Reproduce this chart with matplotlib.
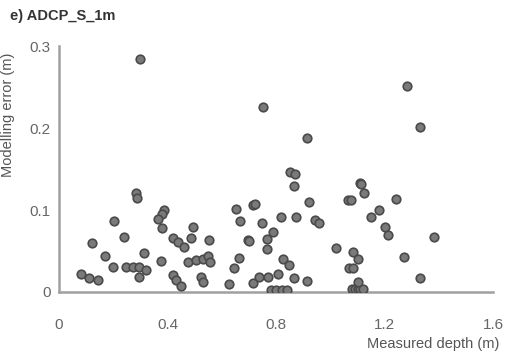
import matplotlib.pyplot as plt

plt.rcParams["font.family"] = ["Liberation Sans", "DejaVu Sans"]

# Data (measured depth vs modelling error)
depth = [0.298, 0.752, 1.283, 1.331, 0.914, 0.85, 0.87, 1.11,
         0.284, 0.289, 0.387, 0.380, 0.365, 0.380, 0.203, 0.240, 0.122,
         0.170, 0.313, 0.199, 0.247, 0.273, 0.295, 0.321, 0.295, 0.376,
         0.081, 0.111, 0.144, 0.420, 0.439, 0.461, 0.494, 0.487,
         0.476, 0.505, 0.531, 0.420, 0.431, 0.450, 0.523, 0.531,
         0.553, 0.652, 0.667, 0.697, 0.664, 0.645, 0.627, 0.715, 0.549, 0.557,
         0.866, 0.723, 0.748, 0.818, 0.874, 0.921, 0.944, 0.958, 1.065,
         0.700, 0.789, 0.767, 0.767, 1.020, 0.826, 0.848,
         0.715, 0.737, 0.770, 0.807, 0.866, 0.914, 1.069,
         0.78, 0.80, 0.82, 0.84,
         1.113, 1.124, 1.076, 1.242, 1.180, 1.150, 1.200, 1.213, 1.382,
         1.084, 1.102, 1.084, 1.272, 1.331,
         1.08, 1.09, 1.10, 1.11, 1.12, 1.10]
error = [0.285, 0.226, 0.251, 0.201, 0.188, 0.146, 0.144, 0.133,
         0.121, 0.115, 0.100, 0.095, 0.089, 0.078, 0.087, 0.067, 0.060,
         0.044, 0.048, 0.031, 0.031, 0.031, 0.031, 0.027, 0.018, 0.038,
         0.022, 0.017, 0.015, 0.066, 0.061, 0.055, 0.079, 0.066,
         0.037, 0.039, 0.040, 0.021, 0.015, 0.007, 0.018, 0.012,
         0.063, 0.101, 0.087, 0.063, 0.041, 0.029, 0.010, 0.106, 0.044, 0.037,
         0.129, 0.107, 0.084, 0.091, 0.091, 0.110, 0.088, 0.084, 0.112,
         0.062, 0.073, 0.065, 0.052, 0.054, 0.040, 0.033,
         0.011, 0.018, 0.018, 0.022, 0.017, 0.013, 0.029,
         0.002, 0.002, 0.002, 0.002,
         0.132, 0.121, 0.112, 0.113, 0.100, 0.091, 0.079, 0.070, 0.067,
         0.049, 0.040, 0.029, 0.043, 0.017,
         0.003, 0.003, 0.003, 0.003, 0.003, 0.012]

x_ticks = [0, 0.4, 0.8, 1.2, 1.6]
x_tick_labels = ["0", "0.4", "0.8", "1.2", "1.6"]
y_ticks = [0, 0.1, 0.2, 0.3]
y_tick_labels = ["0", "0.1", "0.2", "0.3"]

fig = plt.figure(figsize=(5.08, 3.56), dpi=100)
ax = fig.add_axes([0.116, 0.180, 0.855, 0.690])

ax.scatter(depth, error, s=38, facecolor="#7a7a7a", edgecolor="#4a4a4a",
           linewidth=1.2, zorder=3)

ax.set_xlim(0, 1.6)
ax.set_ylim(0, 0.3)
ax.set_xticks(x_ticks)
ax.set_xticklabels(x_tick_labels)
ax.set_yticks(y_ticks)
ax.set_yticklabels(y_tick_labels)
ax.tick_params(axis="both", length=0, labelsize=11, colors="#666666")
ax.tick_params(axis="x", pad=19)
ax.tick_params(axis="y", pad=6)

for side in ["top", "right"]:
    ax.spines[side].set_visible(False)
for side in ["left", "bottom"]:
    ax.spines[side].set_color("#a0a0a0")
    ax.spines[side].set_linewidth(1.8)

ax.set_xlabel("Measured depth (m)", fontsize=10.5, color="#555555")
ax.xaxis.set_label_coords(1.015, -0.185)
ax.xaxis.label.set_horizontalalignment("right")

ax.set_ylabel("Modelling error (m)", fontsize=10.5, color="#555555")
ax.yaxis.set_label_coords(-0.10, 0.72)

fig.text(0.02, 0.955, "e) ADCP_S_1m", fontsize=10.5, fontweight="bold",
         color="#333333", va="center")

plt.savefig("out.png", dpi=100)
plt.close()
